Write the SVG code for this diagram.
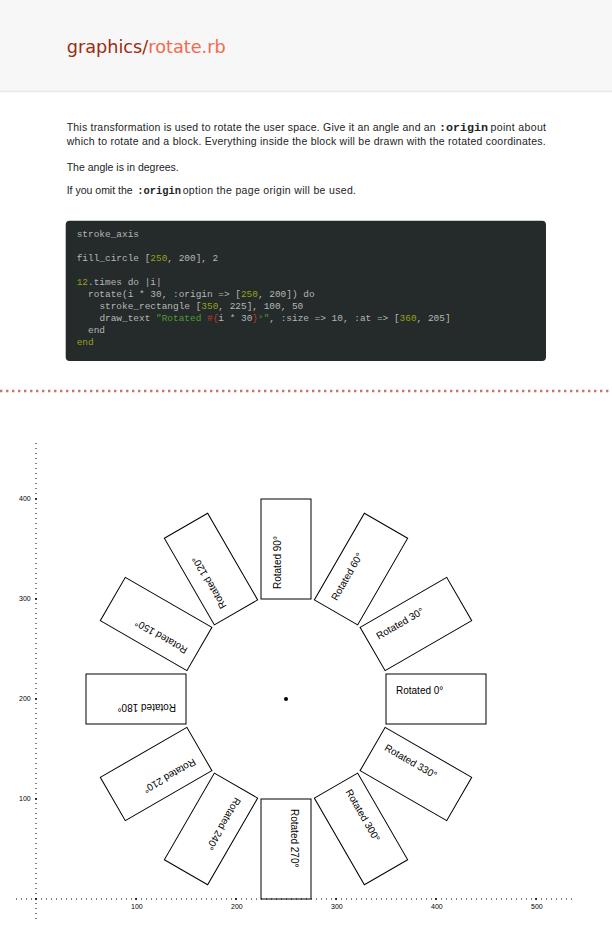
<svg xmlns="http://www.w3.org/2000/svg" width="612" height="936" viewBox="0 0 612 936">
<style>
.body{font-family:"Liberation Sans",Arial,sans-serif;font-size:10.5px;fill:#222}
.ic{font-family:"Liberation Mono","Courier New",monospace;font-weight:bold;font-size:10px;fill:#222}
.code{font-family:"Liberation Mono","Courier New",monospace;font-size:9.45px;fill:#b4b8b6}
.num{fill:#95a11e}
.str{fill:#4f9d2f}
.interp{fill:#c0392b}
.box rect{fill:none;stroke:#000;stroke-width:1}
.box text{font-family:"Liberation Sans",Arial,sans-serif;font-size:10px;fill:#000}
.axis line{stroke:#000;stroke-width:1;stroke-dasharray:1 4}
.axis circle{fill:#000}
.axis text{font-family:"Liberation Sans",Arial,sans-serif;font-size:7px;fill:#000}
</style>
<rect x="0" y="0" width="612" height="936" fill="#ffffff"/>
<g id="header">
  <rect x="0" y="0" width="612" height="91" fill="#f7f7f7"/>
  <line x1="0" y1="91.5" x2="612" y2="91.5" stroke="#e9e9e9" stroke-width="1.5"/>
  <text x="66.7" y="53" font-family="DejaVu Sans,Verdana,sans-serif" font-size="17.6" textLength="159" lengthAdjust="spacingAndGlyphs"><tspan fill="#9b2c10">graphics/</tspan><tspan fill="#f26a50">rotate.rb</tspan></text>
</g>
<g id="description">
  <text class="body" x="66.7" y="131" textLength="369" lengthAdjust="spacing">This transformation is used to rotate the user space. Give it an angle and an</text>
  <text class="ic" x="439" y="131" textLength="49" lengthAdjust="spacingAndGlyphs">:origin</text>
  <text class="body" x="490.5" y="131" textLength="55.5" lengthAdjust="spacing">point about</text>
  <text class="body" x="66.7" y="145" textLength="479" lengthAdjust="spacing">which to rotate and a block. Everything inside the block will be drawn with the rotated coordinates.</text>
  <text class="body" x="66.7" y="171">The angle is in degrees.</text>
  <text class="body" x="66.7" y="194">If you omit the</text>
  <text class="ic" x="137.3" y="194" textLength="43.7" lengthAdjust="spacingAndGlyphs">:origin</text>
  <text class="body" x="182.7" y="194" textLength="173.3" lengthAdjust="spacing">option the page origin will be used.</text>
</g>
<g id="code">
  <rect x="65.7" y="220.7" width="480.3" height="140.3" rx="4" ry="4" fill="#252a2a"/>
  <text class="code" x="76.7" y="237">stroke_axis</text>
  <text class="code" x="76.7" y="261">fill_circle [<tspan class="num">250</tspan>, 200], 2</text>
  <text class="code" x="76.7" y="285"><tspan class="num">12</tspan>.times do |i|</text>
  <text class="code" x="88.04" y="297">rotate(i * 30, :origin =&gt; [<tspan class="num">250</tspan>, 200]) do</text>
  <text class="code" x="99.38" y="309">stroke_rectangle [<tspan class="num">350</tspan>, 225], 100, 50</text>
  <text class="code" x="99.38" y="321">draw_text <tspan class="str">"Rotated </tspan><tspan class="interp">#{</tspan>i * 30<tspan class="interp">}</tspan><tspan class="str">°"</tspan>, :size =&gt; 10, :at =&gt; [<tspan class="num">360</tspan>, 205]</text>
  <text class="code" x="88.04" y="333">end</text>
  <text class="code num" x="76.7" y="345">end</text>
</g>
<line id="separator" x1="0" y1="391" x2="612" y2="391" stroke="#c77a62" stroke-width="2.4" stroke-dasharray="2.4 3.6"/>
<g id="axis" class="axis">
  <line x1="16" y1="899" x2="576" y2="899"/>
  <line x1="36" y1="919" x2="36" y2="441"/>
  <circle cx="36" cy="899" r="1"/>
  <circle cx="136" cy="899" r="1"/>
  <circle cx="236" cy="899" r="1"/>
  <circle cx="336" cy="899" r="1"/>
  <circle cx="436" cy="899" r="1"/>
  <circle cx="536" cy="899" r="1"/>
  <circle cx="36" cy="799" r="1"/>
  <circle cx="36" cy="699" r="1"/>
  <circle cx="36" cy="599" r="1"/>
  <circle cx="36" cy="499" r="1"/>
  <text x="131" y="909">100</text>
  <text x="231" y="909">200</text>
  <text x="331" y="909">300</text>
  <text x="431" y="909">400</text>
  <text x="531" y="909">500</text>
  <text x="19" y="801">100</text>
  <text x="19" y="701">200</text>
  <text x="19" y="601">300</text>
  <text x="19" y="501">400</text>
</g>
<circle id="origin" cx="286" cy="699" r="2" fill="#000"/>
<g id="rot0" class="box"><rect x="386" y="674" width="100" height="50"/><text x="396" y="694">Rotated 0°</text></g>
<g id="rot30" class="box" transform="rotate(-30 286 699)"><rect x="386" y="674" width="100" height="50"/><text x="396" y="694">Rotated 30°</text></g>
<g id="rot60" class="box" transform="rotate(-60 286 699)"><rect x="386" y="674" width="100" height="50"/><text x="396" y="694">Rotated 60°</text></g>
<g id="rot90" class="box" transform="rotate(-90 286 699)"><rect x="386" y="674" width="100" height="50"/><text x="396" y="694">Rotated 90°</text></g>
<g id="rot120" class="box" transform="rotate(-120 286 699)"><rect x="386" y="674" width="100" height="50"/><text x="396" y="694">Rotated 120°</text></g>
<g id="rot150" class="box" transform="rotate(-150 286 699)"><rect x="386" y="674" width="100" height="50"/><text x="396" y="694">Rotated 150°</text></g>
<g id="rot180" class="box" transform="rotate(-180 286 699)"><rect x="386" y="674" width="100" height="50"/><text x="396" y="694">Rotated 180°</text></g>
<g id="rot210" class="box" transform="rotate(-210 286 699)"><rect x="386" y="674" width="100" height="50"/><text x="396" y="694">Rotated 210°</text></g>
<g id="rot240" class="box" transform="rotate(-240 286 699)"><rect x="386" y="674" width="100" height="50"/><text x="396" y="694">Rotated 240°</text></g>
<g id="rot270" class="box" transform="rotate(-270 286 699)"><rect x="386" y="674" width="100" height="50"/><text x="396" y="694">Rotated 270°</text></g>
<g id="rot300" class="box" transform="rotate(-300 286 699)"><rect x="386" y="674" width="100" height="50"/><text x="396" y="694">Rotated 300°</text></g>
<g id="rot330" class="box" transform="rotate(-330 286 699)"><rect x="386" y="674" width="100" height="50"/><text x="396" y="694">Rotated 330°</text></g>
<g id="connectors"/>
</svg>
